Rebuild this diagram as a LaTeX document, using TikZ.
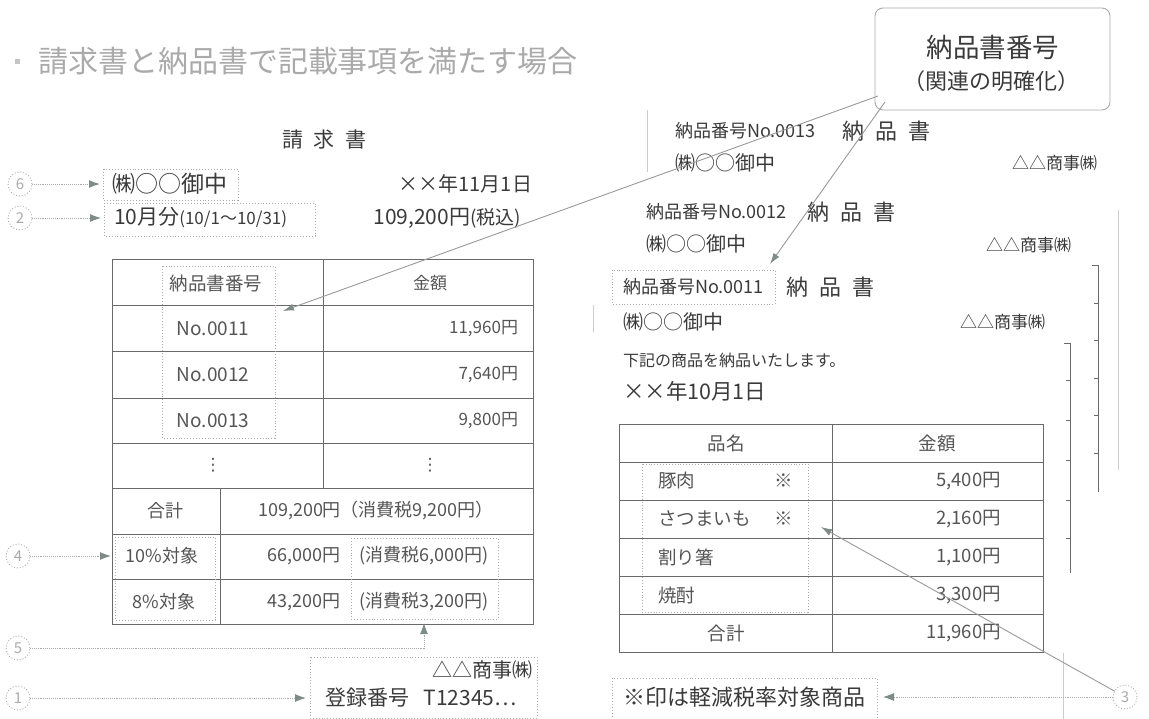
\documentclass[tikz,border=0pt]{standalone}
\usepackage{fontspec}
\setmainfont{Noto Sans CJK JP}
\newfontfamily\symfont{DejaVu Sans}
\usetikzlibrary{arrows.meta}
\definecolor{ink}{HTML}{3A3A3A}
\definecolor{soft}{HTML}{555555}
\definecolor{pale}{HTML}{AAAAAA}
\definecolor{rule}{HTML}{6A6A6A}
\definecolor{tipc}{HTML}{7F8C86}
\newcommand{\fsz}[1]{\fontsize{#1}{#1}\selectfont}
\tikzset{
  every node/.style={inner sep=0pt, outer sep=0pt, text=ink},
  dotbox/.style={draw=pale, dotted, line width=0.9pt},
  numc/.style={circle, draw=pale, dotted, line width=0.9pt, minimum size=24pt, text=pale, font=\fsz{15}},
  lead/.style={draw=pale, densely dotted, line width=0.9pt, -{Latex[length=11pt,width=8pt,color=tipc]}},
  link/.style={draw=pale!90!black, line width=0.9pt, -{Latex[length=11pt,width=7pt,color=tipc]}},
  tbl/.style={draw=rule, line width=1pt},
  edge/.style={draw=rule, line width=0.9pt},
  faint/.style={draw=pale!60, line width=0.7pt},
  tcell/.style={text=soft, font=\fsz{17}},
  rcell/.style={text=soft, font=\fsz{18.5}},
}
\begin{document}
\begin{tikzpicture}[x=1pt,y=-1pt]
\useasboundingbox (0,0) rectangle (1149,719);

% title
\fill[pale!70] (15,59) rectangle (20,64);
\node[anchor=west, text=pale, font=\fsz{30}] (title) at (38,61) {請求書と納品書で記載事項を満たす場合};

% top right box
\node[draw=pale, rounded corners=8pt, line width=0.9pt, minimum width=235pt, minimum height=102pt] (topbox) at (992.5,59) {};
\node[font=\fsz{26.5}] (tb1) at (993,47) {納品書番号};
\node[font=\fsz{22}] (tb2) at (991,81) {（関連の明確化）};

% invoice header
\node[font=\fsz{21}] (inv) at (324,140) {請\hspace{0.5em}求\hspace{0.5em}書};
\node[numc] (c6) at (20,184) {6};
\node[anchor=west, font=\fsz{23}] (to1) at (112,184) {㈱○○御中};
\draw[dotbox] (103,169) rectangle (238,200);
\coordinate (b6) at (100,184);
\draw[lead] (c6) -- (b6);
\node[anchor=east, font=\fsz{20}] (date1) at (532,184) {××年11月1日};

\node[numc] (c2) at (20,218) {2};
\node[anchor=west, font=\fsz{21}] (per) at (114,218) {10月分{\fsz{17}(10/1〜10/31)}};
\draw[dotbox] (104,203) rectangle (315,236);
\coordinate (b2) at (101,218);
\draw[lead] (c2) -- (b2);
\node[anchor=east, font=\fsz{21}] (tot1) at (521,218) {109,200円{\fsz{19}(税込)}};

% left table
\draw[tbl] (112,260) rectangle (533,624);
\foreach \yy in {306,352,398,443,488,534,579} \draw[tbl] (112,\yy) -- (533,\yy);
\draw[tbl] (323,260) -- (323,488);
\draw[tbl] (220,488) -- (220,624);
\draw[dotbox] (162,266) rectangle (275,438);

\node[tcell, font=\fsz{18.5}] (h1) at (216,283) {納品書番号};
\node[tcell] (h2) at (430,283) {金額};
\node[tcell, font=\fsz{19}] (n11) at (213,329) {No.0011};
\node[tcell, anchor=east] (a11) at (518,329) {11,960円};
\node[tcell, font=\fsz{19}] (n12) at (213,375) {No.0012};
\node[tcell, anchor=east] (a12) at (518,375) {7,640円};
\node[tcell, font=\fsz{19}] (n13) at (213,421) {No.0013};
\node[tcell, anchor=east] (a13) at (518,421) {9,800円};
\node[tcell, font=\symfont\fsz{17}] (d1) at (213,465) {⋮};
\node[tcell, font=\symfont\fsz{17}] (d2) at (430,465) {⋮};
\node[tcell, font=\fsz{18}] (sum) at (165,511) {合計};
\node[tcell, font=\fsz{18}] (sumv) at (376,511) {109,200円（消費税9,200円）};
\node[tcell, font=\fsz{18}] (p10) at (162,556) {10\%対象};
\node[tcell, font=\fsz{18}, anchor=east] (v10) at (340,556) {66,000円};
\node[tcell, font=\fsz{18}] (t10) at (424,556) {(消費税6,000円)};
\node[tcell, font=\fsz{18}] (p8) at (164,602) {8\%対象};
\node[tcell, font=\fsz{18}, anchor=east] (v8) at (340,602) {43,200円};
\node[tcell, font=\fsz{18}] (t8) at (424,602) {(消費税3,200円)};
\draw[dotbox] (115,537) rectangle (215,620);
\draw[dotbox] (351,538) rectangle (498,619);

\node[numc] (c4) at (18,556) {4};
\coordinate (b4) at (111,556);
\draw[lead] (c4) -- (b4);

\node[numc] (c5) at (18,648) {5};
\coordinate (k5) at (424,648);
\coordinate (b5) at (424,623);
\draw[lead] (c5) -- (k5) -- (b5);

\node[anchor=east, font=\fsz{20}] (co1) at (532,670) {△△商事㈱};
\node[anchor=west, font=\fsz{21}] (reg) at (325,698) {登録番号\hspace{0.7em}T12345…};
\draw[dotbox] (310,657) rectangle (537,718);
\node[numc] (c1) at (18,698) {1};
\coordinate (b1) at (306,698);
\draw[lead] (c1) -- (b1);

% right: stacked delivery notes (page edges)
\draw[faint] (647,110) -- (647,172);
\draw[faint] (1118,210) -- (1118,470);
\draw[edge] (1092,265) -- (1098,265) -- (1098,492);
\foreach \yy in {303,340,378,415,453} \draw[edge] (1094,\yy) -- (1098,\yy);
\draw[faint] (593,305) -- (593,332);
\draw[edge] (1064,343) -- (1070,343) -- (1070,573);
\foreach \yy in {380,420,460,500,538} \draw[edge] (1066,\yy) -- (1070,\yy);
\draw[faint] (1063,653) -- (1063,719);

% page 3
\node[anchor=west, font=\fsz{18}] (no13) at (675,131) {納品番号No.0013};
\node[anchor=west, font=\fsz{22}] (nh3) at (842,131) {納\hspace{0.5em}品\hspace{0.5em}書};
\node[anchor=west, font=\fsz{20}] (to3) at (675,163) {㈱○○御中};
\node[anchor=east, font=\fsz{17}] (co3) at (1097,163) {△△商事㈱};
% page 2
\node[anchor=west, font=\fsz{18}] (no12) at (646,212) {納品番号No.0012};
\node[anchor=west, font=\fsz{22}] (nh2) at (807,212) {納\hspace{0.5em}品\hspace{0.5em}書};
\node[anchor=west, font=\fsz{20}] (to2) at (646,244) {㈱○○御中};
\node[anchor=east, font=\fsz{17}] (co2) at (1071,245) {△△商事㈱};
% page 1
\node[anchor=west, font=\fsz{18}] (no11) at (623,287) {納品番号No.0011};
\node[anchor=west, font=\fsz{22}] (nh1) at (786,287) {納\hspace{0.5em}品\hspace{0.5em}書};
\draw[dotbox] (612,270) rectangle (775,304);
\node[anchor=west, font=\fsz{20}] (to11) at (623,322) {㈱○○御中};
\node[anchor=east, font=\fsz{17}] (co11) at (1045,322) {△△商事㈱};
\node[anchor=west, font=\fsz{16}] (msg) at (623,360) {下記の商品を納品いたします。};
\node[anchor=west, font=\fsz{21.5}] (date2) at (623,391) {××年10月1日};

% right table
\draw[tbl] (619,424) rectangle (1043,652);
\foreach \yy in {462,500,538,576,614} \draw[tbl] (619,\yy) -- (1043,\yy);
\draw[tbl] (832,424) -- (832,652);
\draw[dotbox] (642,464) rectangle (808,612);
\node[rcell] (rh1) at (726,443) {品名};
\node[rcell] (rh2) at (937,443) {金額};
\node[rcell, anchor=west] (i1) at (658,481) {豚肉};
\node[rcell] (s1) at (784,481) {※};
\node[rcell, anchor=east] (v1) at (1001,481) {5,400円};
\node[rcell, anchor=west] (i2) at (658,519) {さつまいも};
\node[rcell] (s2) at (784,519) {※};
\node[rcell, anchor=east] (v2) at (1001,519) {2,160円};
\node[rcell, anchor=west] (i3) at (658,557) {割り箸};
\node[rcell, anchor=east] (v3) at (1001,557) {1,100円};
\node[rcell, anchor=west] (i4) at (658,595) {焼酎};
\node[rcell, anchor=east] (v4) at (1001,595) {3,300円};
\node[rcell] (rs) at (726,633) {合計};
\node[rcell, anchor=east] (rv) at (1001,633) {11,960円};

\node[anchor=west, font=\fsz{22}] (note) at (623,697) {※印は軽減税率対象商品};
\draw[dotbox] (612,678) rectangle (877,719);
\node[numc] (c3) at (1125,697) {3};
\coordinate (b3a) at (883,697);
\coordinate (b3b) at (821,527);
\draw[lead] (c3) -- (b3a);
\draw[link] (c3) -- (b3b);

% links from top box
\coordinate (tbA) at (878,96);
\coordinate (tbB) at (885,102);
\coordinate (tgA) at (283,311);
\coordinate (tgB) at (770,264);
\draw[link] (tbA) -- (tgA);
\draw[link] (tbB) -- (tgB);
\end{tikzpicture}
\end{document}
